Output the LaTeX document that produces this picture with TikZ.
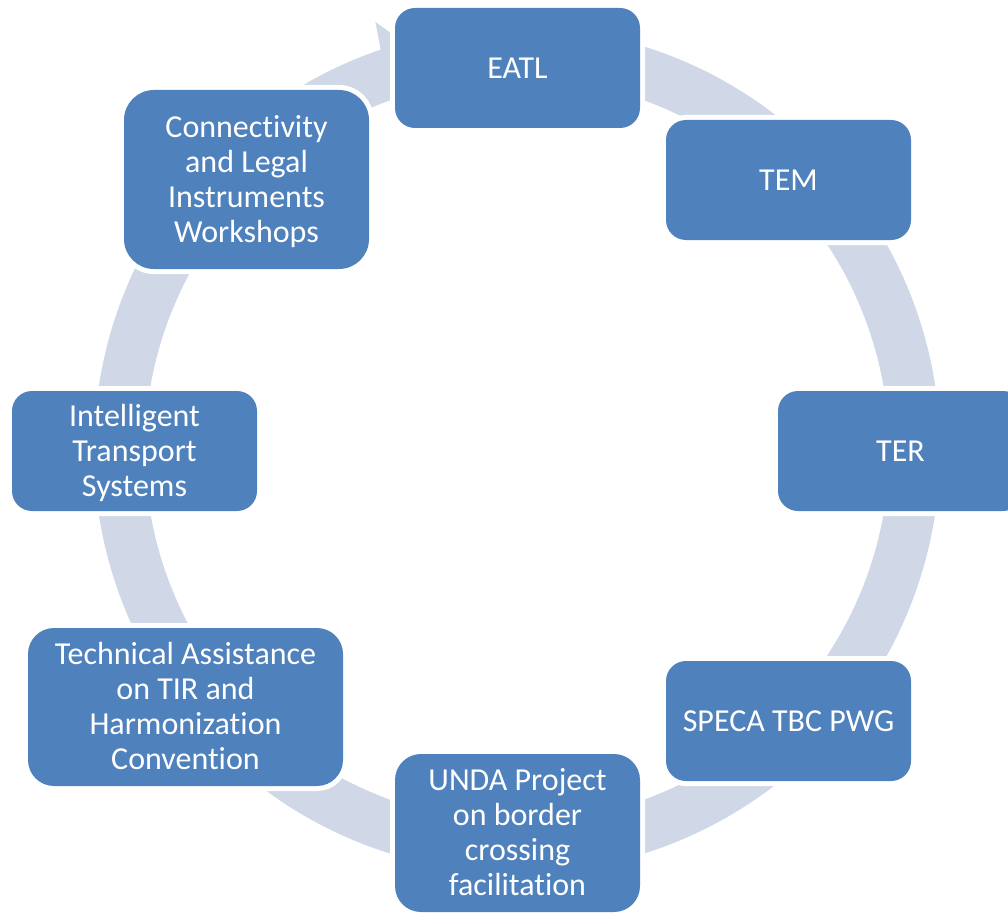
\documentclass[tikz,border=0pt]{standalone}
\usepackage{fontspec}
\setmainfont{Carlito}[Ligatures={NoCommon}]
\definecolor{boxblue}{HTML}{4F81BD}
\definecolor{ringc}{HTML}{D0D8E8}
\tikzset{
  cyclebox/.style={fill=boxblue, text=white, align=center,
    preaction={draw=white, line width=10pt},
    font=\fontsize{32}{35}\selectfont, inner sep=0pt},
  onebox/.style={cyclebox, minimum width=245pt, minimum height=120pt, rounded corners=20pt},
  fourbox/.style={cyclebox, minimum height=158pt, rounded corners=26pt}
}
\newcommand{\dn}[2]{\smash{\raisebox{\dimexpr 17.5pt*(#1-1)-10.4pt\relax}{\begin{tabular}[t]{@{}c@{}}#2\end{tabular}}}}
\begin{document}
\begin{tikzpicture}[x=1pt,y=1pt]
\useasboundingbox (0,0) rectangle (1008,-912);
\clip (0,0) rectangle (1008,-912);
% ring arrow
\begin{scope}[shift={(517,-450)}]
\fill[ringc] (80:423) arc[start angle=80, end angle=-251.2, radius=423]
  -- (108.3:451) -- (102.6:397.6) -- (108.8:372)
  arc[start angle=108.8, end angle=440, radius=372] -- cycle;
\end{scope}
% boxes
\node[onebox] (eatl) at (517.5,-68) {\dn{1}{EATL}};
\node[onebox] (tem) at (788.5,-180) {\dn{1}{TEM}};
\node[onebox] (ter) at (900.5,-451) {\dn{1}{TER}};
\node[onebox] (speca) at (788.5,-721) {\dn{1}{SPECA TBC PWG}};
\node[fourbox, minimum width=245pt] (unda) at (517.5,-833) {\dn{4}{UNDA Project\\on border\\crossing\\facilitation}};
\node[fourbox, minimum width=315pt] (tech) at (185.5,-707) {\dn{4}{Technical Assistance\\on TIR and\\Harmonization\\Convention}};
\node[onebox] (its) at (134.5,-451) {\dn{3}{Intelligent\\Transport\\Systems}};
\node[cyclebox, minimum width=245pt, minimum height=179pt, rounded corners=30pt] (conn) at (246.5,-179.5) {\dn{4}{Connectivity\\and Legal\\Instruments\\Workshops}};
\end{tikzpicture}
\end{document}
